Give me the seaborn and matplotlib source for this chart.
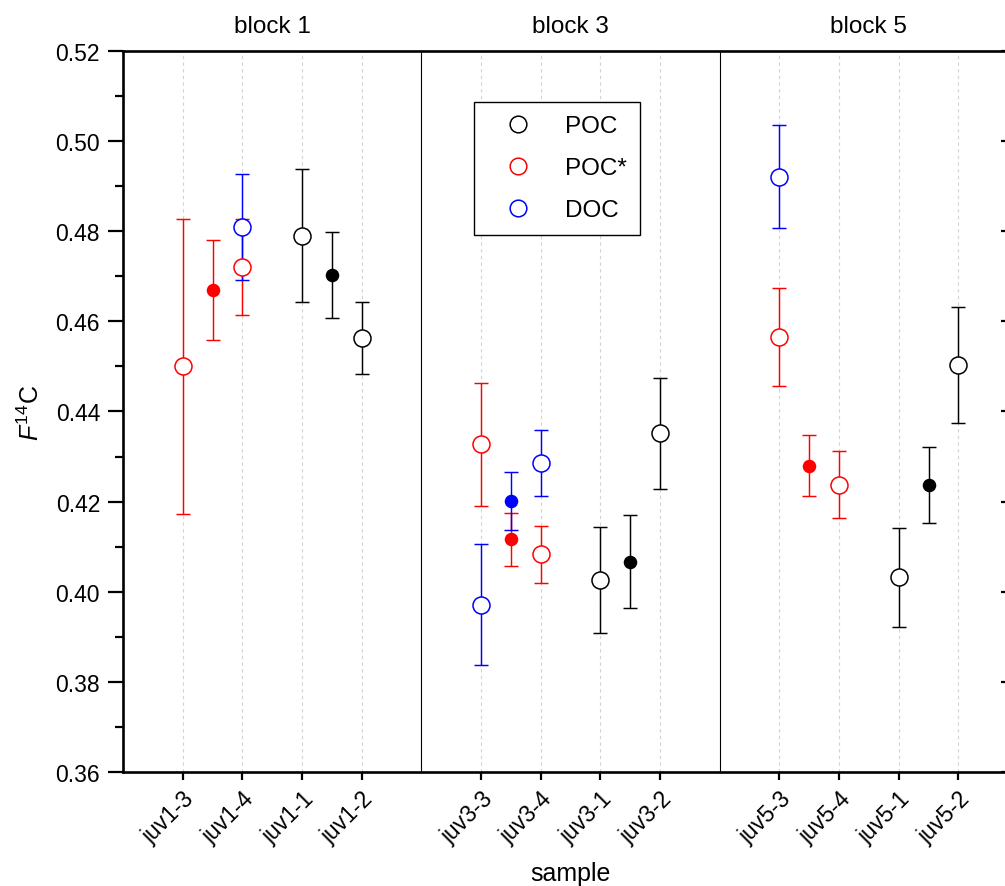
import matplotlib

matplotlib.use("agg")  # no display in the sandbox

import pandas as pd
import matplotlib.pyplot as plt
import seaborn as sns
from matplotlib.lines import Line2D
from matplotlib.ticker import AutoMinorLocator

# samples in plotting order, four per block
samples = [
    "juv1-3", "juv1-4", "juv1-1", "juv1-2",
    "juv3-3", "juv3-4", "juv3-1", "juv3-2",
    "juv5-3", "juv5-4", "juv5-1", "juv5-2",
]
blocks = ["block 1", "block 3", "block 5"]
series = ["POC", "POC*", "DOC"]
series_colors = ["black", "red", "blue"]

# single measurements (open circles)
open_sample = [
    "juv1-3", "juv1-4", "juv1-4", "juv1-1", "juv1-2",
    "juv3-3", "juv3-3", "juv3-4", "juv3-4", "juv3-1", "juv3-2",
    "juv5-3", "juv5-3", "juv5-4", "juv5-1", "juv5-2",
]
open_series = [
    "POC*", "DOC", "POC*", "POC", "POC",
    "POC*", "DOC", "DOC", "POC*", "POC", "POC",
    "DOC", "POC*", "POC*", "POC", "POC",
]
open_value = [
    0.4500, 0.4809, 0.4721, 0.4790, 0.4563,
    0.4327, 0.3971, 0.4285, 0.4083, 0.4026, 0.4352,
    0.4921, 0.4565, 0.4238, 0.4032, 0.4504,
]
open_err = [
    0.0328, 0.0117, 0.0106, 0.0148, 0.0079,
    0.0137, 0.0134, 0.0073, 0.0064, 0.0117, 0.0123,
    0.0114, 0.0109, 0.0075, 0.0110, 0.0129,
]

# pooled means (filled circles), drawn between a sample and the next one
mean_after = ["juv1-3", "juv1-1", "juv3-3", "juv3-3", "juv3-1", "juv5-3", "juv5-1"]
mean_series = ["POC*", "POC", "DOC", "POC*", "POC", "POC*", "POC"]
mean_value = [0.4670, 0.4703, 0.4201, 0.4116, 0.4067, 0.4280, 0.4237]
mean_err = [0.0111, 0.0096, 0.0065, 0.0058, 0.0103, 0.0067, 0.0084]

y_ticks = [0.36, 0.38, 0.40, 0.42, 0.44, 0.46, 0.48, 0.50, 0.52]

sns.set_style("ticks")
plt.rcParams["font.family"] = ["Liberation Sans", "DejaVu Sans"]
plt.rcParams["mathtext.fontset"] = "custom"
plt.rcParams["mathtext.rm"] = "Liberation Sans"
plt.rcParams["mathtext.it"] = "Liberation Sans:italic"
for key in ("text.color", "axes.labelcolor", "xtick.color", "ytick.color", "axes.edgecolor"):
    plt.rcParams[key] = "black"


def xpos(name):
    # one empty slot between the blocks
    i = samples.index(name)
    return i + 1 + i // 4


opens = pd.DataFrame(
    {"sample": open_sample, "series": open_series, "value": open_value, "err": open_err}
)
opens["x"] = opens["sample"].map(xpos)
means = pd.DataFrame(
    {"after": mean_after, "series": mean_series, "value": mean_value, "err": mean_err}
)
means["x"] = means["after"].map(xpos) + 0.5

fig = plt.figure(figsize=(10.05, 8.87), dpi=100)
ax = fig.add_axes([123 / 1005, 114 / 887, 895 / 1005, 721 / 887])

n_slots = len(samples) + len(blocks)
ax.set_xlim(0, n_slots)
ax.set_ylim(y_ticks[0], y_ticks[-1])

# block separators
for b in range(1, len(blocks)):
    ax.axvline(5 * b, color="black", lw=0.8, zorder=1)

for name, color in zip(series, series_colors):
    for df, size in ((opens, 150), (means, 95)):
        sub = df[df["series"] == name]
        if sub.empty:
            continue
        ax.errorbar(
            sub["x"], sub["value"], yerr=sub["err"], fmt="none", ecolor=color,
            elinewidth=1.05, capsize=5.0, capthick=1.05, zorder=2,
        )
        if df is opens:
            sns.scatterplot(
                data=sub, x="x", y="value", ax=ax, marker="o", s=size,
                facecolor="white", edgecolor=color, linewidth=1.1, zorder=3,
            )
        else:
            sns.scatterplot(
                data=sub, x="x", y="value", ax=ax, marker="o", s=size,
                color=color, edgecolor=color, linewidth=0, zorder=3,
            )

# axes, ticks and grid
ax.set_xticks([xpos(s) for s in samples])
ax.set_xticklabels(samples, rotation=45, ha="right", rotation_mode="anchor", fontsize=16.5)
ax.set_yticks(y_ticks)
ax.set_yticklabels([f"{t:.2f}" for t in y_ticks], fontsize=16.5)
ax.yaxis.set_minor_locator(AutoMinorLocator(2))
ax.tick_params(axis="y", which="major", direction="out", length=10.5, width=1.6, pad=6)
ax.tick_params(axis="y", which="minor", direction="out", length=6, width=1.6)
ax.tick_params(axis="x", which="major", direction="out", length=5.5, width=1.6, pad=5)
ax.grid(axis="x", color="#d3d3d3", linestyle=(0, (3, 3)), linewidth=0.8)
ax.set_axisbelow(True)
for side in ("left", "bottom", "top"):
    ax.spines[side].set_linewidth(1.9)
ax.spines["right"].set_linewidth(1.0)

ax2 = ax.twinx()
ax2.set_ylim(ax.get_ylim())
ax2.set_yticks(y_ticks)
ax2.set_yticklabels([])
ax2.tick_params(axis="y", direction="in", length=12, width=1.6)
for sp in ax2.spines.values():
    sp.set_visible(False)

for b, label in enumerate(blocks):
    ax.text(5 * b + 2.5, 1.035, label, transform=ax.get_xaxis_transform(),
            ha="center", va="center", fontsize=17.5)

ax.set_xlabel("sample", fontsize=18)
ax.xaxis.set_label_coords(0.5, -0.123)
ax.set_ylabel(r"$\mathit{F}^{14}$C", fontsize=18)
ax.yaxis.set_label_coords(-0.088, 0.5)

handles = [
    Line2D([], [], marker="o", ls="none", mfc="white", mec=c, ms=12, mew=1.1)
    for c in series_colors
]
leg = ax.legend(
    handles, series, loc="upper left", bbox_to_anchor=(474 / 1005, 1 - 103 / 887),
    bbox_transform=fig.transFigure, frameon=True, fancybox=False, edgecolor="black",
    framealpha=1, fontsize=17.5, handlelength=2.5, handletextpad=0.7,
    labelspacing=0.82, borderpad=0.55, borderaxespad=0,
)
leg.get_frame().set_linewidth(1.0)

plt.savefig("out.png", dpi=100)
